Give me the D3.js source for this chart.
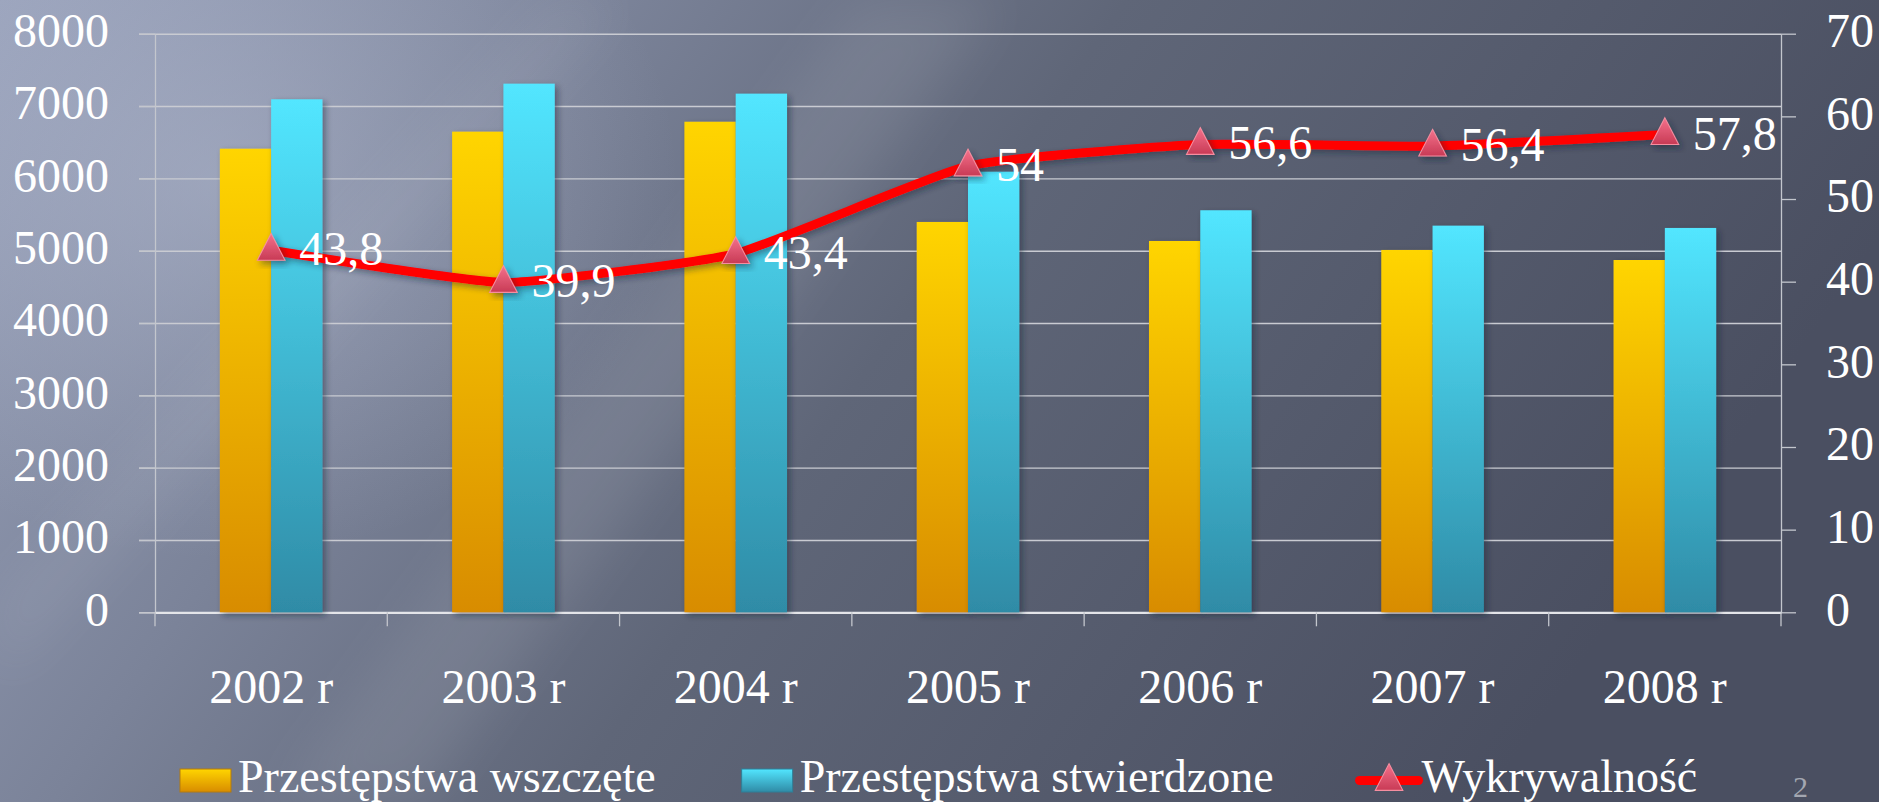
<!DOCTYPE html>
<html>
<head>
<meta charset="utf-8">
<script src="https://cdn.jsdelivr.net/npm/d3@7"></script>
<style>
body { margin:0; background:#5a6072; overflow:hidden; }
svg text { font-family:"Palatino Linotype","Book Antiqua",Palatino,"Liberation Serif",serif; fill:#fff; }
.grid line { stroke:#c9cbd2; stroke-width:1.4; }
.grid path { display:none; }
.axis line, .axis path { stroke:#c3c6cd; stroke-width:1.3; fill:none; }
.x.axis path.domain { stroke:#e4e5e9; stroke-width:2.2; }
</style>
</head>
<body>
<svg id="chart" width="1879" height="802"></svg>
<script>
// --- data ---
var years = ["2002 r", "2003 r", "2004 r", "2005 r", "2006 r", "2007 r", "2008 r"]
var wszczete = [6410, 6646, 6783, 5397, 5134, 5010, 4871]      // Przestępstwa wszczęte
var stwierdzone = [7093, 7309, 7171, 6092, 5559, 5346, 5314]   // Przestępstwa stwierdzone
var wykrywalnosc = [43.8, 39.9, 43.4, 54, 56.6, 56.4, 57.8]    // Wykrywalność (%)
var leftTicks = [0, 1000, 2000, 3000, 4000, 5000, 6000, 7000, 8000]
var rightTicks = [0, 10, 20, 30, 40, 50, 60, 70]
var legendNames = ["Przestępstwa wszczęte", "Przestępstwa stwierdzone", "Wykrywalność"]

var svg = d3.select("#chart")
var defs = svg.append("defs")

// background gradient
var bg = defs.append("linearGradient").attr("id", "bg")
    .attr("x1", 0).attr("y1", 0).attr("x2", 1).attr("y2", 0.3)
bg.append("stop").attr("offset", 0).attr("stop-color", "#98a1ba")
bg.append("stop").attr("offset", 0.3).attr("stop-color", "#7b8399")
bg.append("stop").attr("offset", 0.55).attr("stop-color", "#5f6678")
bg.append("stop").attr("offset", 1).attr("stop-color", "#4a4f61")

var glow = defs.append("radialGradient").attr("id", "glow")
glow.append("stop").attr("offset", 0).attr("stop-color", "#c4cbe0").attr("stop-opacity", 0.35)
glow.append("stop").attr("offset", 1).attr("stop-color", "#c4cbe0").attr("stop-opacity", 0)

defs.append("filter").attr("id", "blur").attr("x", "-20%").attr("width", "140%")
  .append("feGaussianBlur").attr("stdDeviation", 25)

function barGrad(id, c1, c2) {
  var g = defs.append("linearGradient").attr("id", id).attr("x1", 0).attr("y1", 0).attr("x2", 0).attr("y2", 1)
  g.append("stop").attr("offset", 0).attr("stop-color", c1)
  g.append("stop").attr("offset", 1).attr("stop-color", c2)
}
barGrad("gYellow", "#ffd500", "#d88c00")
barGrad("gCyan", "#52e6ff", "#2f8ba6")
barGrad("gMarker", "#f4728c", "#c83a55")

var shadow = defs.append("filter").attr("id", "shadow").attr("x", "-30%").attr("y", "-30%").attr("width", "160%").attr("height", "160%")
shadow.append("feDropShadow").attr("dx", 3).attr("dy", 3).attr("stdDeviation", 3)
    .attr("flood-color", "#1c2030").attr("flood-opacity", 0.45)

svg.append("rect").attr("width", 1879).attr("height", 802).attr("fill", "url(#bg)")
svg.append("ellipse").attr("cx", 220).attr("cy", 180).attr("rx", 460).attr("ry", 380).attr("fill", "url(#glow)")
// diagonal light streaks
svg.append("polygon").attr("points", "860,0 1000,0 420,802 280,802")
    .attr("fill", "#ffffff").attr("opacity", 0.08).attr("filter", "url(#blur)")
svg.append("polygon").attr("points", "560,0 620,0 0,680 0,600")
    .attr("fill", "#ffffff").attr("opacity", 0.06).attr("filter", "url(#blur)")

// --- chart area ---
var plotLeft = 155, plotTop = 33.7, plotRight = 1781, plotBottom = 612.3
var width = plotRight - plotLeft, height = plotBottom - plotTop

var graphG = svg.append("g").attr("transform", "translate(" + plotLeft + "," + plotTop + ")")

var xScale = d3.scaleBand().domain(years).range([0, width]).padding(0)
var xSub = d3.scaleBand().domain(["w", "s"]).range([0, xScale.bandwidth()]).paddingInner(0).paddingOuter(1.264)
var yLeft = d3.scaleLinear().domain([0, 8000]).range([height, 0])
var yRight = d3.scaleLinear().domain([0, 70]).range([height, 0])

// gridlines (extend 16px left of the axis like tick marks)
graphG.append("g")
    .attr("class", "grid")
    .attr("transform", "translate(-16,0)")
    .call(d3.axisLeft(yLeft).tickValues(leftTicks).tickSize(-(width + 16)).tickFormat(""))

// left axis
var yAxisL = graphG.append("g")
    .attr("class", "y axis")
    .call(d3.axisLeft(yLeft).tickValues(leftTicks).tickFormat(d3.format("d"))
        .tickSize(16).tickSizeOuter(0).tickPadding(30))
yAxisL.attr("font-size", 48).attr("font-family", null)
yAxisL.selectAll("text").attr("dy", "0.27em")

// right axis
var yAxisR = graphG.append("g")
    .attr("class", "y axis")
    .attr("transform", "translate(" + width + ",0)")
    .call(d3.axisRight(yRight).tickValues(rightTicks).tickFormat(d3.format("d"))
        .tickSize(15).tickSizeOuter(0).tickPadding(30))
yAxisR.attr("font-size", 48).attr("font-family", null)
yAxisR.selectAll("text").attr("dy", "0.27em")

// x axis with labels
var xAxis = graphG.append("g")
    .attr("class", "x axis")
    .attr("transform", "translate(0," + height + ")")
    .call(d3.axisBottom(xScale).tickSize(0).tickSizeOuter(0).tickPadding(56.6))
xAxis.attr("font-size", 48).attr("font-family", null)

// category boundary ticks
var bounds = years.map(function(d) { return xScale(d) }).concat([xScale.range()[1]])
xAxis.selectAll("line.bound").data(bounds).enter().append("line")
    .attr("class", "bound")
    .attr("x1", function(d) { return d }).attr("x2", function(d) { return d })
    .attr("y1", 0).attr("y2", 14)

// bars
var rows = years.map(function(y, i) { return { year: y, w: wszczete[i], s: stwierdzone[i] } })
var groups = graphG.selectAll("g.bars").data(rows).enter().append("g")
    .attr("class", "bars")
    .attr("transform", function(d) { return "translate(" + xScale(d.year) + ",0)" })

groups.append("rect")
    .attr("x", xSub("w")).attr("width", xSub.bandwidth())
    .attr("y", function(d) { return yLeft(d.w) })
    .attr("height", function(d) { return height - yLeft(d.w) })
    .attr("fill", "url(#gYellow)").attr("filter", "url(#shadow)")

groups.append("rect")
    .attr("x", xSub("s")).attr("width", xSub.bandwidth())
    .attr("y", function(d) { return yLeft(d.s) })
    .attr("height", function(d) { return height - yLeft(d.s) })
    .attr("fill", "url(#gCyan)").attr("filter", "url(#shadow)")

// line series
var cx = function(d, i) { return xScale(years[i]) + xScale.bandwidth() / 2 }
var line = d3.line()
    .x(cx)
    .y(function(d) { return yRight(d) })
    .curve(d3.curveCardinal.tension(0.55))

graphG.append("path")
    .datum(wykrywalnosc)
    .attr("d", line)
    .attr("fill", "none")
    .attr("stroke", "#ff0000")
    .attr("stroke-width", 9)
    .attr("stroke-linejoin", "round")
    .attr("filter", "url(#shadow)")

var tri = d3.symbol(d3.symbolTriangle, 330)
graphG.selectAll("path.marker").data(wykrywalnosc).enter().append("path")
    .attr("class", "marker")
    .attr("d", tri)
    .attr("transform", function(d, i) { return "translate(" + cx(d, i) + "," + (yRight(d) + 1) + ") scale(1,1.12)" })
    .attr("fill", "url(#gMarker)")
    .attr("stroke", "#f58ea0").attr("stroke-width", 1)
    .attr("filter", "url(#shadow)")

graphG.selectAll("text.label").data(wykrywalnosc).enter().append("text")
    .attr("class", "label")
    .attr("x", function(d, i) { return cx(d, i) + 28 })
    .attr("y", function(d) { return yRight(d) + 15 })
    .attr("font-size", 48)
    .text(function(d) { return String(d).replace(".", ",") })

// legend
var legend = svg.append("g").attr("transform", "translate(0,780.5)")
var lx = 180
legendNames.forEach(function(name, i) {
  var item = legend.append("g").attr("transform", "translate(" + lx + ",0)")
  var tx
  if (i < 2) {
    item.append("rect").attr("x", 0).attr("y", -11.5).attr("width", 51).attr("height", 23)
        .attr("fill", i === 0 ? "url(#gYellow)" : "url(#gCyan)")
        .attr("stroke", i === 0 ? "#b27a10" : "#2f7f98").attr("stroke-width", 1)
    tx = 58
  } else {
    item.append("line").attr("x1", 0).attr("x2", 59).attr("y1", 0).attr("y2", 0)
        .attr("stroke", "#ff0000").attr("stroke-width", 9).attr("stroke-linecap", "round")
    item.append("path").attr("d", tri).attr("transform", "translate(29.5,1) scale(1,1.12)")
        .attr("fill", "url(#gMarker)").attr("stroke", "#f58ea0").attr("stroke-width", 1)
    tx = 62
  }
  var t = item.append("text").attr("x", tx).attr("y", 11.5).attr("font-size", 46).text(name)
  lx += tx + t.node().getComputedTextLength() + 86
})

// slide number
svg.append("text").attr("x", 1793).attr("y", 797).attr("font-size", 30)
    .style("fill", "#a3a7b1").text("2")
</script>
</body>
</html>
